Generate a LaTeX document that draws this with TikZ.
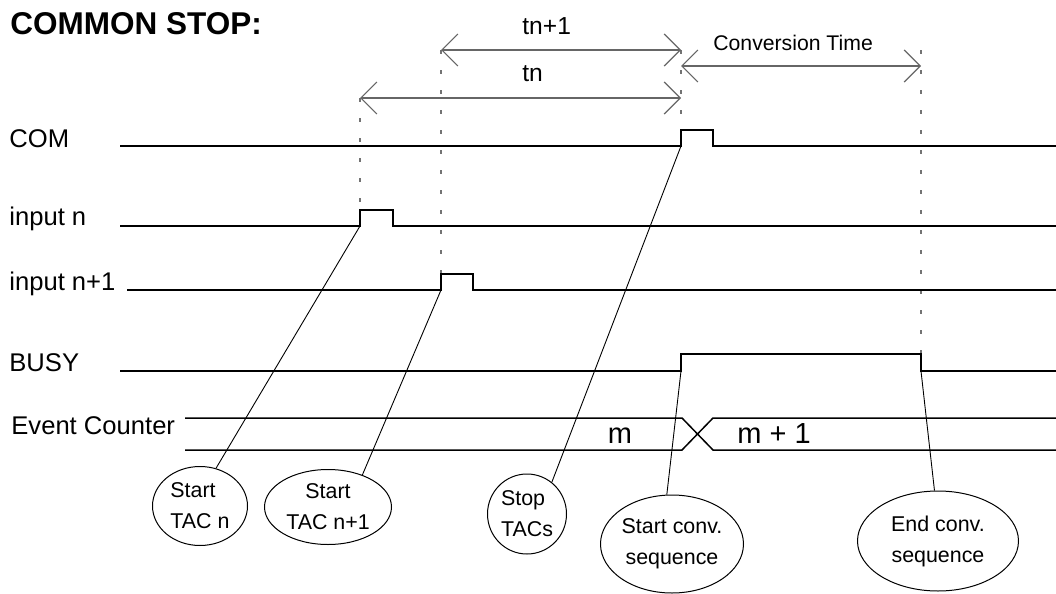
\documentclass[tikz,border=0pt]{standalone}
\usepackage{fontspec}
\setmainfont{Liberation Sans}
\usetikzlibrary{shapes.geometric, arrows.meta, positioning, calc}
\tikzset{
  sig line/.style={line width=1.3pt, draw=black},
  cnt line/.style={line width=0.75pt, draw=black},
  dim arrow/.style={
    {Straight Barb[length=8pt,width=16pt]}-{Straight Barb[length=8pt,width=16pt]},
    line width=0.6pt, draw=black!60
  },
  guide/.style={draw=black!55, line width=0.6pt, dash pattern=on 2pt off 8pt},
  callout/.style={draw=black, line width=0.45pt},
  sig label/.style={anchor=base west, inner sep=0pt, font=\fontsize{12.8}{15}\selectfont},
  dim label/.style={anchor=base west, inner sep=0pt, font=\fontsize{12.3}{15}\selectfont},
  note/.style={
    ellipse, draw=black, line width=0.5pt, inner sep=0pt,
    font=\fontsize{10.7}{15.5}\selectfont
  }
}
\begin{document}
\begin{tikzpicture}[x=0.5pt, y=-0.5pt]
  \useasboundingbox (0,0) rectangle (1056,594);

  % title and signal names
  \node (title) [anchor=base west, inner sep=0pt, font=\fontsize{15.75}{18}\selectfont\bfseries] at (10,34) {COMMON STOP:};
  \node (lcom) [sig label] at (9,147) {COM};
  \node (lin) [sig label] at (9,225) {input n};
  \node (linn) [sig label] at (9,290) {input n+1};
  \node (lbusy) [sig label] at (9,371) {BUSY};
  \node (lcnt) [sig label] at (11,434) {Event Counter};

  % edges
  \coordinate (in up) at (360,226);
  \coordinate (inn up) at (441,290);
  \coordinate (com up) at (681,146);
  \coordinate (busy up) at (681,371);
  \coordinate (busy down) at (921,371);

  % guides
  \draw [guide] (360,98) -- (360,210);
  \draw [guide] (441,50) -- (441,274);
  \draw [guide] (681,50) -- (681,130);
  \draw [guide] (921,50) -- (921,354);

  % dimension arrows
  \draw [dim arrow] (441,50) -- (681,50);
  \draw [dim arrow] (360,98) -- (681,98);
  \draw [dim arrow] (681,66) -- (921,66);
  \node (ltn1) [dim label] at (522,34) {tn+1};
  \node (ltn) [dim label] at (522,82) {tn};
  \node (lconv) [anchor=base west, inner sep=0pt, font=\fontsize{10.6}{13}\selectfont] at (713,50) {Conversion Time};

  % signals
  \draw [sig line] (120,146) -- (com up) -- ++(0,-16) -- ++(32,0) -- ++(0,16) -- (1056,146);
  \draw [sig line] (120,226) -- (in up) -- ++(0,-16) -- ++(33,0) -- ++(0,16) -- (1056,226);
  \draw [sig line] (127,290) -- (inn up) -- ++(0,-16) -- ++(32,0) -- ++(0,16) -- (1056,290);
  \draw [sig line] (120,371) -- (busy up) -- (681,354) -- (921,354) -- (busy down) -- (1056,371);

  % event counter
  \draw [cnt line] (185,418) -- (682,418) -- (713,450) -- (1056,450);
  \draw [cnt line] (185,450) -- (682,450) -- (713,418) -- (1056,418);
  \node (cm) [anchor=base, inner sep=0pt, font=\fontsize{14.5}{17}\selectfont] at (620,443) {m};
  \node (cm1) [anchor=base, inner sep=0pt, font=\fontsize{14.5}{17}\selectfont] at (774,443) {m + 1};

  % notes
  \node (tacn) [note, minimum width=47.5pt, minimum height=39.5pt, align=left] at (200,506) {Start\\TAC n};
  \node (tacnn) [note, minimum width=63.5pt, minimum height=37.5pt, align=center] at (328,507) {Start\\TAC n+1};
  \node (stop) [note, minimum width=39.5pt, minimum height=40pt, align=left] at (527,514) {Stop\\TACs};
  \node (sconv) [note, minimum width=71.5pt, minimum height=49pt, align=center] at (672,544) {Start conv.\\sequence};
  \node (econv) [note, minimum width=80.5pt, minimum height=50pt, align=center] at (938,541) {End conv.\\sequence};

  \draw [callout] (in up) -- (tacn.67);
  \draw [callout] (inn up) -- (tacnn.43);
  \draw [callout] (com up) -- (stop.52);
  \draw [callout] (busy up) -- (sconv.96);
  \draw [callout] (busy down) -- (econv.94);
\end{tikzpicture}
\end{document}
